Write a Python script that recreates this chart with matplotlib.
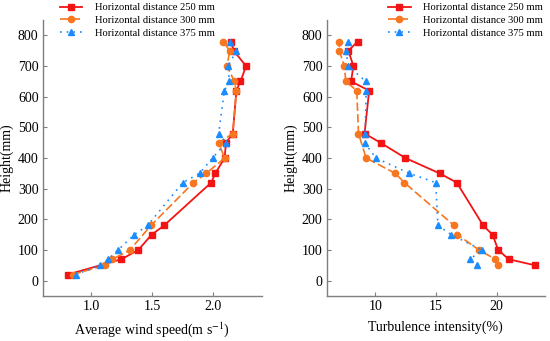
import matplotlib
matplotlib.use("Agg")
import matplotlib.pyplot as plt

plt.rcParams['font.family'] = ['Liberation Serif', 'DejaVu Serif']
plt.rcParams['mathtext.fontset'] = 'stix'

# Left panel: average wind speed (m/s) vs height (mm)
ws_h_250 = [20, 70, 100, 150, 180, 320, 350, 400, 450, 480, 620, 650, 700, 750, 780]
ws_250 = [0.807, 1.248, 1.386, 1.496, 1.598, 1.986, 2.019, 2.096, 2.107, 2.163, 2.193, 2.226, 2.273, 2.171, 2.149]
ws_h_300 = [20, 50, 70, 100, 180, 320, 350, 400, 450, 480, 620, 650, 700, 750, 780]
ws_300 = [0.848, 1.110, 1.174, 1.317, 1.490, 1.840, 1.945, 2.096, 2.047, 2.163, 2.193, 2.176, 2.116, 2.138, 2.083]
ws_h_375 = [20, 50, 70, 100, 150, 180, 320, 350, 400, 450, 480, 620, 650, 700, 750, 780]
ws_375 = [0.871, 1.074, 1.138, 1.220, 1.353, 1.463, 1.752, 1.890, 1.997, 2.107, 2.047, 2.094, 2.135, 2.124, 2.193, 2.143]

# Right panel: turbulence intensity (%) vs height (mm)
ti_h_250 = [50, 70, 100, 150, 180, 320, 350, 400, 450, 480, 620, 650, 700, 750, 780]
ti_250 = [23.18, 21.0, 20.14, 19.67, 18.90, 16.72, 15.31, 12.49, 10.44, 9.12, 9.50, 8.01, 8.20, 7.79, 8.54]
ti_h_300 = [50, 70, 100, 150, 180, 320, 350, 400, 480, 620, 650, 700, 750, 780]
ti_300 = [20.14, 19.89, 18.57, 16.77, 16.50, 12.40, 11.66, 9.25, 8.62, 8.48, 7.57, 7.46, 7.04, 7.04]
ti_h_375 = [50, 70, 100, 150, 180, 320, 350, 400, 450, 480, 620, 650, 700, 750, 780]
ti_375 = [18.43, 17.82, 18.79, 16.27, 15.17, 14.98, 12.82, 10.06, 9.12, 9.17, 9.25, 9.22, 7.79, 7.57, 7.73]

labels = ['Horizontal distance 250 mm', 'Horizontal distance 300 mm', 'Horizontal distance 375 mm']
c_red, c_orange, c_blue = '#f21414', '#f7761f', '#1a8cff'

fig = plt.figure(figsize=(5.5, 3.41), dpi=100)
ax1 = fig.add_axes([0.0776, 0.132, 0.398, 0.809])
ax2 = fig.add_axes([0.594, 0.132, 0.397, 0.809])

def style(ax):
    for s in ['top', 'right']:
        ax.spines[s].set_visible(False)
    for s in ['left', 'bottom']:
        ax.spines[s].set_color('#7f7f7f')
        ax.spines[s].set_linewidth(1.0)
    ax.tick_params(direction='in', length=3, color='#7f7f7f', labelsize=10, pad=3)
    ax.set_ylim(-50, 850)
    ax.set_yticks(range(0, 801, 100))
    ax.set_ylabel('Height(mm)', fontsize=10, labelpad=3)

def draw(ax, h1, x1, h2, x2, h3, x3):
    ax.plot(x1, h1, color=c_red, lw=1.3, marker='s', ms=4, label=labels[0])
    ax.plot(x2, h2, color=c_orange, lw=1.2, ls=(0, (5, 2)), marker='o', ms=4.5, label=labels[1])
    ax.plot(x3, h3, color=c_blue, lw=1.2, ls=(0, (1, 3)), marker='^', ms=4.5, label=labels[2])

draw(ax1, ws_h_250, ws_250, ws_h_300, ws_300, ws_h_375, ws_375)
draw(ax2, ti_h_250, ti_250, ti_h_300, ti_300, ti_h_375, ti_375)
style(ax1)
style(ax2)
ax1.set_xlim(0.6, 2.4)
ax1.set_xticks([1.0, 1.5, 2.0])
ax1.set_xticklabels(['1.0', '1.5', '2.0'])
ax1.set_xlabel('Average wind speed(m s$^{-1}$)', fontsize=10, labelpad=5)
ax2.set_xlim(6, 24)
ax2.set_xticks([10, 15, 20])
ax2.set_xlabel('Turbulence intensity(%)', fontsize=10, labelpad=5)

for ax, anchor in [(ax1, (0.05, 1.085)), (ax2, (1.02, 1.085))]:
    loc = 'upper left' if ax is ax1 else 'upper right'
    ax.legend(loc=loc, bbox_to_anchor=anchor, frameon=False, fontsize=7.6,
              handlelength=2.1, handletextpad=1.2, labelspacing=0.3, borderpad=0.1)

fig.savefig('out.png', dpi=100)
